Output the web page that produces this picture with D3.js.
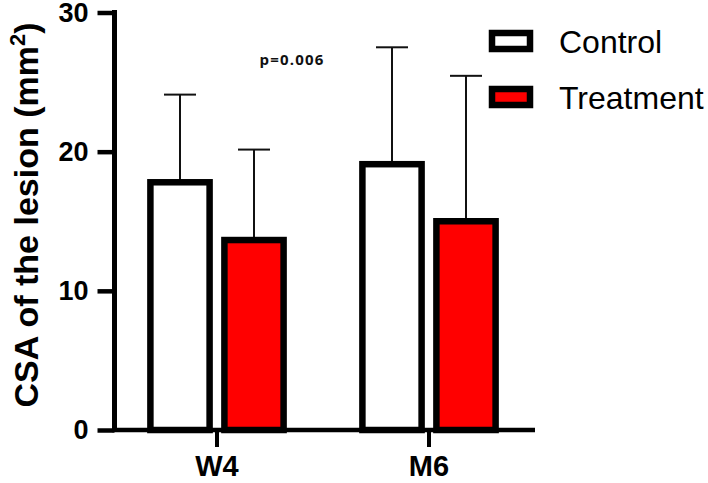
<!DOCTYPE html>
<html>
<head>
<meta charset="utf-8">
<script src="https://cdn.jsdelivr.net/npm/d3@7"></script>
<style>
  html, body { margin: 0; padding: 0; background: #fff; }
  svg { display: block; font-family: "Liberation Sans", Arial, sans-serif; }
</style>
</head>
<body>
<div id="chartContainer"></div>
<script>
// Data
const groups = ["W4", "M6"];
const series = ["Control", "Treatment"];
const controlMean = [17.8, 19.1];
const controlSD = [6.3, 8.4];
const treatmentMean = [13.65, 15.0];
const treatmentSD = [6.5, 10.45];
const yTicks = [0, 10, 20, 30];
const seriesFill = ["#ffffff", "#ff0000"];
const pLabel = "p=0.006";

function init() {
    const w = 708, h = 483;

    const svg = d3.select("#chartContainer").append("svg")
        .attr("width", w)
        .attr("height", h);

    // scales
    const y = d3.scaleLinear().domain([0, 30]).range([430, 12.5]);
    const x = d3.scaleBand().domain(groups).range([111, 535]).padding(0);
    const xSub = d3.scaleBand().domain(series).range([-74, 74])
        .paddingInner(0.2).paddingOuter(0.1);

    // build rows from arrays
    const rows = [];
    groups.forEach((g, i) => {
        rows.push({ group: g, key: "Control", mean: controlMean[i], sd: controlSD[i] });
        rows.push({ group: g, key: "Treatment", mean: treatmentMean[i], sd: treatmentSD[i] });
    });
    const cx = d => x(d.group) + x.bandwidth() / 2 + xSub(d.key);

    // error bars (upper only), drawn first so bars cover the base
    const err = svg.append("g").attr("class", "errors")
        .attr("stroke", "#111").attr("stroke-width", 2);
    err.selectAll("line.stem").data(rows).enter().append("line")
        .attr("class", "stem")
        .attr("x1", d => cx(d) + xSub.bandwidth() / 2)
        .attr("x2", d => cx(d) + xSub.bandwidth() / 2)
        .attr("y1", d => y(d.mean))
        .attr("y2", d => y(d.mean + d.sd));
    err.selectAll("line.cap").data(rows).enter().append("line")
        .attr("class", "cap")
        .attr("x1", d => cx(d) + xSub.bandwidth() / 2 - 16)
        .attr("x2", d => cx(d) + xSub.bandwidth() / 2 + 16)
        .attr("y1", d => y(d.mean + d.sd))
        .attr("y2", d => y(d.mean + d.sd));

    // bars
    svg.append("g").attr("class", "bars")
        .selectAll("rect").data(rows).enter().append("rect")
        .attr("x", d => cx(d))
        .attr("width", xSub.bandwidth())
        .attr("y", d => y(d.mean))
        .attr("height", d => y(0) - y(d.mean))
        .attr("fill", d => seriesFill[series.indexOf(d.key)])
        .attr("stroke", "#000")
        .attr("stroke-width", 6.5);

    // y axis
    const yAxis = svg.append("g")
        .attr("transform", "translate(114.5,0)")
        .call(d3.axisLeft(y).tickValues(yTicks).tickSize(17).tickPadding(9).tickSizeOuter(0));
    yAxis.select(".domain").attr("stroke-width", 5).attr("d", `M0,${y(30) - 2.5}V${y(0)}`);
    yAxis.selectAll(".tick line").attr("stroke-width", 4.5);
    yAxis.selectAll(".tick text")
        .attr("font-family", "'Liberation Sans', Arial, sans-serif")
        .attr("font-size", 27).attr("font-weight", "bold").attr("fill", "#000");

    // x axis
    const xAxis = svg.append("g")
        .attr("transform", `translate(0,${y(0)})`)
        .call(d3.axisBottom(x).tickSize(17).tickPadding(8).tickSizeOuter(0));
    xAxis.select(".domain").attr("stroke-width", 4.5).attr("d", "M112,0H535");
    xAxis.selectAll(".tick line").attr("stroke-width", 4);
    xAxis.selectAll(".tick text")
        .attr("font-family", "'Liberation Sans', Arial, sans-serif")
        .attr("font-size", 29).attr("font-weight", "bold").attr("fill", "#000")
        .attr("dy", "0.74em");

    // y axis title
    const yTitle = svg.append("text")
        .attr("transform", "translate(38,215) rotate(-90)")
        .attr("text-anchor", "middle")
        .attr("font-size", 34)
        .attr("font-weight", "bold")
        .attr("fill", "#000");
    yTitle.append("tspan").text("CSA of the lesion (mm");
    yTitle.append("tspan").attr("font-size", 22).attr("dy", -13).text("2");
    yTitle.append("tspan").attr("dy", 13).text(")");

    // p value
    svg.append("text")
        .attr("x", 292)
        .attr("y", 65)
        .attr("text-anchor", "middle")
        .attr("font-family", "'Open Sans', 'Noto Sans', sans-serif")
        .attr("font-size", 15)
        .attr("font-weight", "bold")
        .attr("letter-spacing", 1.2)
        .attr("fill", "#111")
        .text(pLabel);

    // legend
    const legend = svg.append("g").attr("class", "legend");
    series.forEach((s, i) => {
        const row = legend.append("g").attr("transform", `translate(0,${41 + i * 56})`);
        row.append("rect")
            .attr("x", 492).attr("y", -8)
            .attr("width", 38).attr("height", 16)
            .attr("fill", seriesFill[i])
            .attr("stroke", "#000").attr("stroke-width", 6.5);
        row.append("text")
            .attr("x", 559).attr("y", 11.5)
            .attr("font-size", 32)
            .attr("fill", "#000")
            .text(s);
    });
}
window.onload = init;
</script>
</body>
</html>
